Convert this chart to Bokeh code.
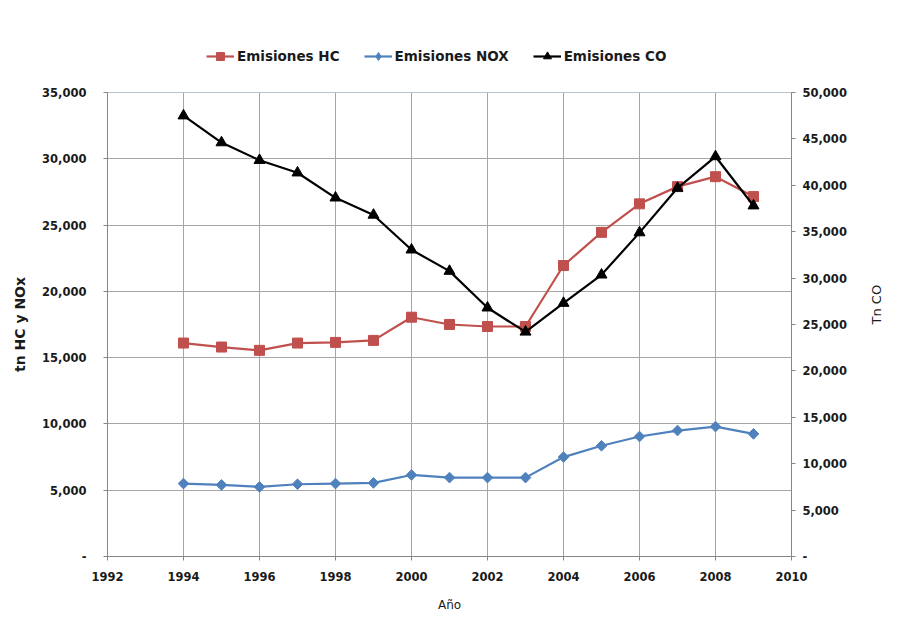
import math
from bokeh.plotting import figure
from bokeh.layouts import column
from bokeh.models import (Range1d, LinearAxis, Legend, LegendItem,
                          CustomJSTickFormatter, FixedTicker)
from bokeh.embed import file_html
from bokeh.resources import INLINE

years = [1994, 1995, 1996, 1997, 1998, 1999, 2000, 2001, 2002, 2003,
         2004, 2005, 2006, 2007, 2008, 2009]
hc = [16100, 15800, 15550, 16100, 16150, 16300, 18050, 17500, 17350, 17350,
      21950, 24450, 26600, 27900, 28650, 27150]
nox = [5500, 5400, 5250, 5450, 5500, 5550, 6150, 5950, 5950, 5950,
       7500, 8350, 9050, 9500, 9800, 9250]
co = [47500, 44600, 42700, 41350, 38650, 36800, 33050, 30750, 26800, 24200,
      27300, 30350, 34900, 39700, 43100, 37800]

series_names = ["Emisiones HC", "Emisiones NOX", "Emisiones CO"]
x_ticks = [1992, 1994, 1996, 1998, 2000, 2002, 2004, 2006, 2008, 2010]
left_ticks = [0, 5000, 10000, 15000, 20000, 25000, 30000, 35000]
right_ticks = [0, 5000, 10000, 15000, 20000, 25000, 30000, 35000, 40000,
               45000, 50000]

FONT = "DejaVu Sans"
AXIS_COL = "#868686"
GRID_COL = "#a6a6a6"
TEXT_COL = "#1a1a1a"
HC_COL = "#C0504D"
NOX_COL = "#4F81BD"
CO_COL = "#000000"

W, H = 904, 625
LEG_H = 70
ML, MR, MT, MB = 107, 113, 92, 69

# ---------- main chart ----------
p = figure(width=W, height=H - LEG_H, output_backend="svg", toolbar_location=None,
           x_range=Range1d(1992, 2010), y_range=Range1d(0, 35000),
           min_border_left=ML, min_border_right=MR,
           min_border_top=MT - LEG_H, min_border_bottom=MB)
p.extra_y_ranges = {"co": Range1d(0, 50000)}
p.outline_line_color = "#b8c4cc"
p.outline_line_width = 1
p.background_fill_color = "white"
p.border_fill_color = "white"

fmt = CustomJSTickFormatter(code="return tick == 0 ? '-' : tick.toLocaleString('en-US');")

xa = p.xaxis[0]
xa.ticker = FixedTicker(ticks=x_ticks)
xa.axis_label = "Año"

ya = p.yaxis[0]
ya.ticker = FixedTicker(ticks=left_ticks)
ya.formatter = fmt
ya.axis_label = "tn HC y NOx"
ya.axis_label_text_font_style = "bold"
ya.axis_label_text_font_size = "14px"

ra = LinearAxis(y_range_name="co", ticker=FixedTicker(ticks=right_ticks),
                formatter=fmt, axis_label="Tn CO")
p.add_layout(ra, "right")
ra.axis_label_text_font_style = "normal"
ra.axis_label_text_font_size = "13px"
try:
    ra.axis_label_orientation = math.pi / 2
except Exception:
    pass

for ax in [xa, ya, ra]:
    ax.axis_line_color = AXIS_COL
    ax.major_tick_line_color = AXIS_COL
    ax.minor_tick_line_color = None
    ax.major_tick_out = 4
    ax.major_tick_in = 0
    ax.major_label_text_font = FONT
    ax.major_label_text_font_size = "11.5px"
    ax.major_label_text_font_style = "bold"
    ax.major_label_text_color = TEXT_COL
    ax.axis_label_text_font = FONT
    ax.axis_label_text_color = TEXT_COL

xa.major_label_standoff = 11
xa.axis_label_standoff = 14
xa.axis_label_text_font_size = "12px"
xa.axis_label_text_font_style = "normal"
ya.major_label_standoff = 17
ya.axis_label_standoff = 11
ra.major_label_standoff = 7
ra.axis_label_standoff = 27

p.xgrid.ticker = FixedTicker(ticks=x_ticks)
p.ygrid.ticker = FixedTicker(ticks=left_ticks)
for g in [p.xgrid[0], p.ygrid[0]]:
    g.grid_line_color = GRID_COL
    g.grid_line_width = 1

p.line(years, hc, line_color=HC_COL, line_width=2.2)
p.scatter(years, hc, marker="square", size=10, fill_color=HC_COL, line_color=HC_COL)
p.line(years, nox, line_color=NOX_COL, line_width=2.2)
p.scatter(years, nox, marker="square", size=7.5, angle=math.pi / 4,
          fill_color=NOX_COL, line_color=NOX_COL)
p.line(years, co, line_color=CO_COL, line_width=2.2, y_range_name="co")
p.scatter(years, co, marker="triangle", size=11, fill_color=CO_COL, line_color=CO_COL,
          y_range_name="co")

# ---------- legend strip (same series, drawn outside its visible range) ----------
lg = figure(width=W, height=LEG_H, output_backend="svg", toolbar_location=None,
            x_range=Range1d(0, 1), y_range=Range1d(0, 1),
            x_axis_location=None, y_axis_location=None,
            min_border_left=ML, min_border_right=MR,
            min_border_top=0, min_border_bottom=0)
lg.outline_line_color = None
lg.xgrid.visible = False
lg.ygrid.visible = False
lg.background_fill_color = "white"
lg.border_fill_color = "white"

d1 = lg.line(years, hc, line_color=HC_COL, line_width=2.2)
s1 = lg.scatter(years, hc, marker="square", size=10, fill_color=HC_COL, line_color=HC_COL)
d2 = lg.line(years, nox, line_color=NOX_COL, line_width=2.2)
s2 = lg.scatter(years, nox, marker="diamond", size=12, fill_color=NOX_COL, line_color=NOX_COL)
d3 = lg.line(years, co, line_color=CO_COL, line_width=2.2)
s3 = lg.scatter(years, co, marker="triangle", size=11, fill_color=CO_COL, line_color=CO_COL)

legend = Legend(items=[LegendItem(label=series_names[0], renderers=[d1, s1]),
                       LegendItem(label=series_names[1], renderers=[d2, s2]),
                       LegendItem(label=series_names[2], renderers=[d3, s3])],
                orientation="horizontal", location=(99, 4))
legend.glyph_width = 28
legend.glyph_height = 20
legend.label_height = 20
legend.label_standoff = 3
legend.spacing = 24
legend.padding = 0
legend.margin = 0
legend.border_line_color = None
legend.background_fill_alpha = 0
legend.label_text_font = FONT
legend.label_text_font_size = "13.5px"
legend.label_text_font_style = "bold"
legend.label_text_color = TEXT_COL
lg.add_layout(legend, "center")

layout = column(lg, p, spacing=0)
open("out.html", "w").write(file_html(layout, INLINE))
